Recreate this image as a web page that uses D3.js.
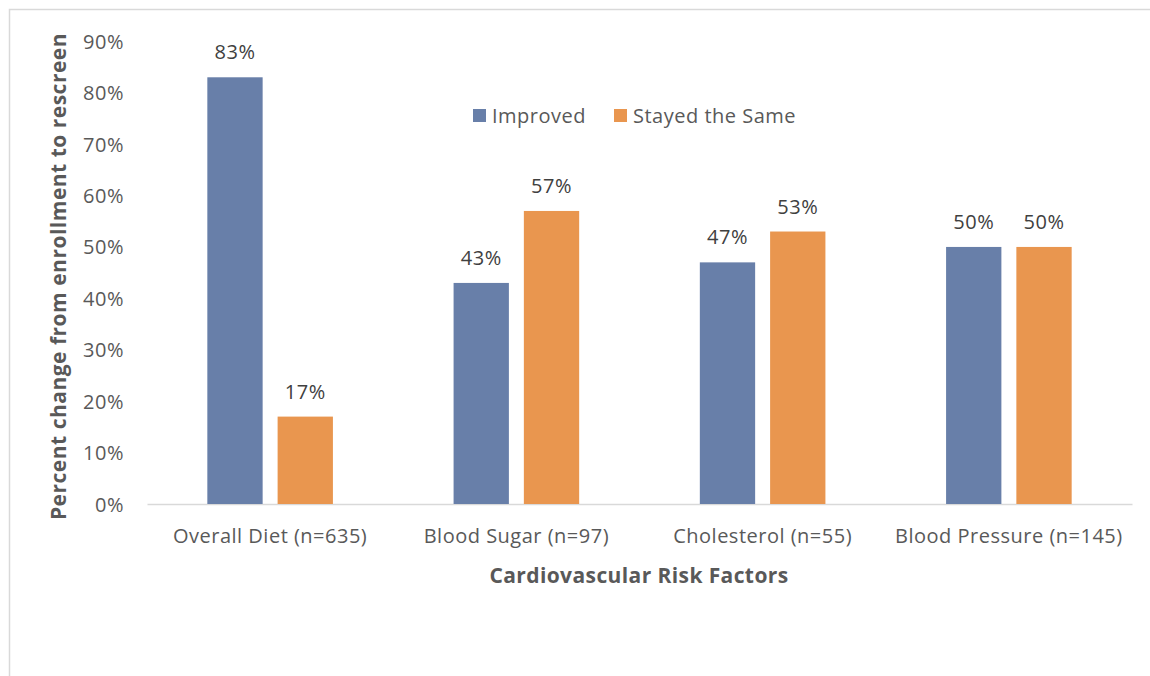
<!DOCTYPE html>
<html>
<head>
<meta charset="utf-8">
<script src="https://cdn.jsdelivr.net/npm/d3@7"></script>
<style>
  html, body { margin: 0; padding: 0; background: #fff; }
  svg { display: block; font-family: "Open Sans", sans-serif; }
</style>
</head>
<body>
<svg id="chart" width="1150" height="676"></svg>
<script>
const categories = ["Overall Diet (n=635)", "Blood Sugar (n=97)", "Cholesterol (n=55)", "Blood Pressure (n=145)"];
const seriesNames = ["Improved", "Stayed the Same"];
const improved = [0.83, 0.43, 0.47, 0.50];
const stayedSame = [0.17, 0.57, 0.53, 0.50];
const yTicks = [0, 0.1, 0.2, 0.3, 0.4, 0.5, 0.6, 0.7, 0.8, 0.9];
const colors = ["#687FA9", "#E9964F"];

const seriesValues = [improved, stayedSame];
const rows = categories.map((c, i) => ({
  cat: c,
  values: seriesNames.map((s, j) => ({ series: s, value: seriesValues[j][i], color: colors[j] }))
}));

const svg = d3.select("#chart");

// outer border
svg.append("rect")
  .attr("x", 9.5).attr("y", 9.5).attr("width", 1200).attr("height", 700)
  .attr("fill", "none").attr("stroke", "#d9d9d9").attr("stroke-width", 1.5);

const plot = { left: 147, right: 1132, top: 41.3, bottom: 504 };

const y = d3.scaleLinear().domain([0, 0.9]).range([plot.bottom, plot.top]);
const x0 = d3.scaleBand().domain(categories).range([plot.left, plot.right])
  .paddingInner(0.49).paddingOuter(0.245);
const x1 = d3.scaleBand().domain(seriesNames).range([0, x0.bandwidth()]).paddingInner(0.213);

// y axis labels
const yAxis = d3.axisLeft(y).tickValues(yTicks).tickFormat(d3.format(".0%")).tickSize(0).tickPadding(0);
const gy = svg.append("g").attr("transform", "translate(124,0)").call(yAxis);
gy.select(".domain").remove();
gy.selectAll("text")
  .attr("fill", "#595959").attr("font-size", 20).attr("letter-spacing", 0.5)
  .attr("font-family", "Open Sans").attr("dy", "0.35em");

// x axis
const xAxis = d3.axisBottom(x0).tickSize(0).tickPadding(0);
const gx = svg.append("g").attr("transform", `translate(0,${plot.bottom})`).call(xAxis);
gx.select(".domain").attr("stroke", "#d9d9d9").attr("stroke-width", 1.5);
gx.selectAll("text")
  .attr("fill", "#595959").attr("font-size", 20).attr("letter-spacing", 0.5)
  .attr("font-family", "Open Sans").attr("y", 39).attr("dy", 0);

// bars
const groups = svg.append("g").selectAll("g").data(rows).join("g")
  .attr("transform", d => `translate(${x0(d.cat)},0)`);

groups.selectAll("rect").data(d => d.values).join("rect")
  .attr("x", d => x1(d.series))
  .attr("width", x1.bandwidth())
  .attr("y", d => y(d.value))
  .attr("height", d => y(0) - y(d.value))
  .attr("fill", d => d.color);

groups.selectAll("text").data(d => d.values).join("text")
  .attr("x", d => x1(d.series) + x1.bandwidth() / 2)
  .attr("y", d => y(d.value) - 18)
  .attr("text-anchor", "middle")
  .attr("fill", "#404040").attr("font-size", 20).attr("letter-spacing", 0.5)
  .text(d => d3.format(".0%")(d.value));

// legend
const legendItems = [
  { name: seriesNames[0], color: colors[0], x: 473 },
  { name: seriesNames[1], color: colors[1], x: 614 }
];
const lg = svg.append("g");
lg.selectAll("rect").data(legendItems).join("rect")
  .attr("x", d => d.x).attr("y", 109).attr("width", 13).attr("height", 13)
  .attr("fill", d => d.color);
lg.selectAll("text").data(legendItems).join("text")
  .attr("x", d => d.x + 19).attr("y", 122.5)
  .attr("fill", "#595959").attr("font-size", 20).attr("letter-spacing", 0.5)
  .text(d => d.name);

// axis titles
svg.append("text")
  .attr("transform", "translate(66,276.5) rotate(-90)")
  .attr("text-anchor", "middle")
  .attr("fill", "#595959").attr("font-size", 21).attr("font-weight", "bold")
  .attr("letter-spacing", 0.5)
  .text("Percent change from enrollment to rescreen");

svg.append("text")
  .attr("x", 639).attr("y", 583)
  .attr("text-anchor", "middle")
  .attr("fill", "#595959").attr("font-size", 21).attr("font-weight", "bold")
  .attr("letter-spacing", 0.4)
  .text("Cardiovascular Risk Factors");
</script>
</body>
</html>
